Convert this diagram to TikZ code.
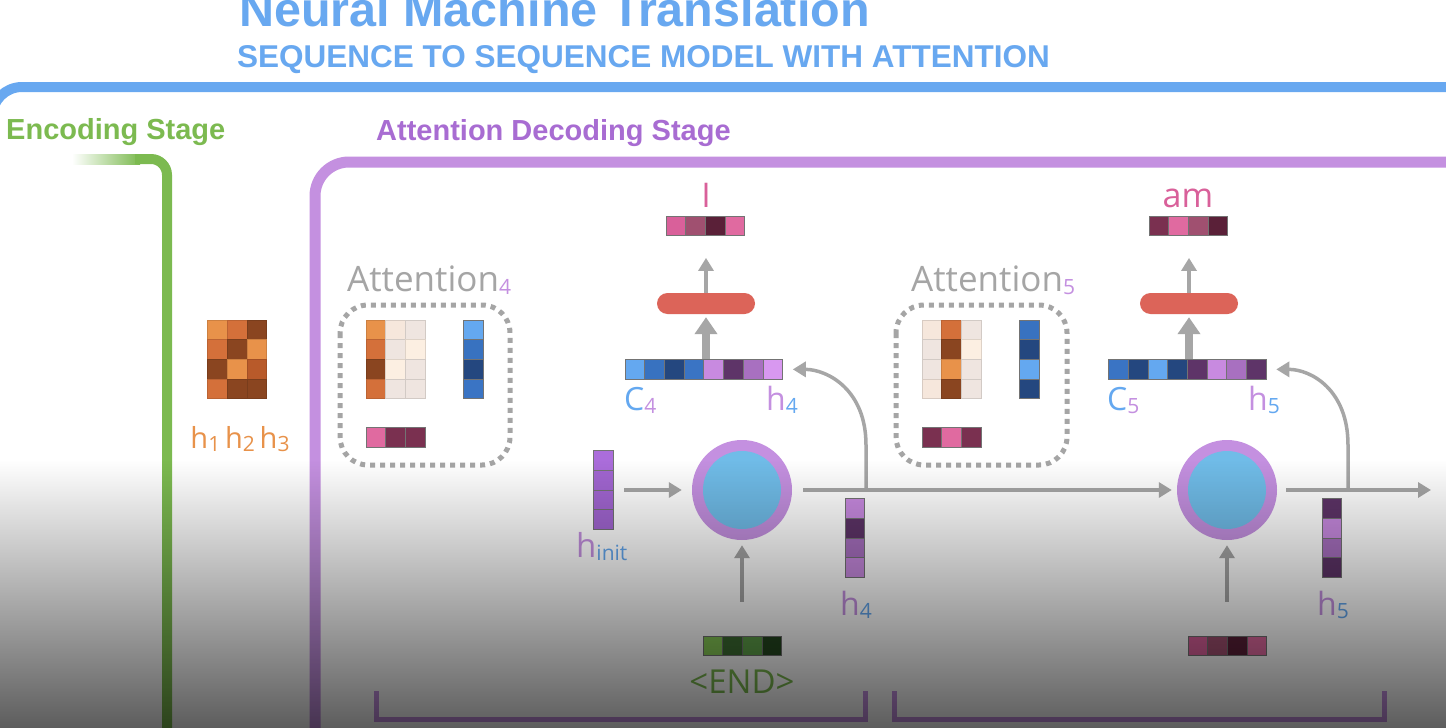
\documentclass[tikz,border=0pt]{standalone}
\usepackage{fontspec}
\setmainfont{Open Sans}
\newfontfamily\headfont{Liberation Sans}
\usetikzlibrary{arrows.meta,fadings}

\definecolor{titleblue}{HTML}{68A8F0}
\definecolor{encgreen}{HTML}{7CBA50}
\definecolor{lilac}{HTML}{C490E0}
\definecolor{decpurple}{HTML}{A86CD2}
\definecolor{attgray}{HTML}{A5A5A5}
\definecolor{arrgray}{HTML}{A6A6A6}
\definecolor{pillred}{HTML}{DC6459}
\definecolor{cellblue}{HTML}{70BCE8}
\definecolor{ctxblue}{HTML}{64A8F0}
\definecolor{pinklbl}{HTML}{D9609A}
% cell colours
\definecolor{o1}{HTML}{E8924A}
\definecolor{o2}{HTML}{D4703A}
\definecolor{o3}{HTML}{8A4520}
\definecolor{o4}{HTML}{B85A2A}
\definecolor{p1}{HTML}{F6E7DC}
\definecolor{p2}{HTML}{EFE5E0}
\definecolor{p3}{HTML}{FCEFE2}
\definecolor{b1}{HTML}{64A8F0}
\definecolor{b2}{HTML}{3872C0}
\definecolor{b3}{HTML}{24477F}
\definecolor{b4}{HTML}{3A74C4}
\definecolor{k1}{HTML}{E06AA0}
\definecolor{k2}{HTML}{7A3050}
\definecolor{k3}{HTML}{A05070}
\definecolor{k4}{HTML}{5A2038}
\definecolor{k5}{HTML}{D9609A}
\definecolor{v1}{HTML}{C88AE0}
\definecolor{v2}{HTML}{5E3468}
\definecolor{v3}{HTML}{A870C0}
\definecolor{v4}{HTML}{D898F0}
\definecolor{i1}{HTML}{AB6DDB}
\definecolor{i2}{HTML}{A266D2}
\definecolor{g1}{HTML}{86C956}
\definecolor{g2}{HTML}{3D6D32}
\definecolor{g3}{HTML}{5FA14A}
\definecolor{g4}{HTML}{254820}

\tikzfading[name=screenshade, top color=transparent!100, bottom color=transparent!36]

\tikzset{
  cellframe/.style={draw=black!55, line width=0.8pt},
  arr/.style={draw=arrgray, line width=3.5pt, -{Triangle[width=15pt,length=13pt]}},
  fatarr/.style={draw=arrgray, line width=8pt, -{Triangle[width=22pt,length=17pt]}},
  pill/.style={fill=pillred, rounded corners=10.5pt, minimum width=98pt, minimum height=21pt, inner sep=0pt},
  rnn/.style={circle, fill=lilac, minimum size=100pt, inner sep=0pt},
  dotbox/.style={draw=attgray, line width=5pt, dash pattern=on 5pt off 5pt, rounded corners=28pt},
  lbl/.style={inner sep=0pt, font=\fontsize{32}{36}\selectfont},
  head/.style={inner sep=0pt, font=\headfont\bfseries\fontsize{29}{33}\selectfont}
}

\def\cw{19.7}
\newcommand{\sub}[2]{\raisebox{-3pt}{\fontsize{21}{21}\selectfont\color{#1}#2}}
% name, x, y, cells, colours
\newcommand{\hvec}[5]{%
  \foreach \col [count=\i from 0] in {#5}
    \filldraw[cellframe, fill=\col] ({#2+\i*\cw},#3) rectangle +(\cw,\cw);
  \node[inner sep=0pt, minimum width={#4*\cw*1pt}, minimum height={\cw*1pt}] (#1) at ({#2+#4*\cw/2},{#3+\cw/2}) {};
}
\newcommand{\vvec}[5]{%
  \foreach \col [count=\i from 0] in {#5}
    \filldraw[cellframe, fill=\col] (#2,{#3+\i*\cw}) rectangle +(\cw,\cw);
  \node[inner sep=0pt, minimum width={\cw*1pt}, minimum height={#4*\cw*1pt}] (#1) at ({#2+\cw/2},{#3+#4*\cw/2}) {};
}
% name, x, y, rows (3 x 4)
\newcommand{\cellgrid}[4]{%
  \foreach \rowcols [count=\ri from 0] in {#4}
    \foreach \col [count=\ci from 0] in \rowcols
      \filldraw[line width=0.8pt, draw=\col!88!black, fill=\col] ({#2+\ci*\cw},{#3+\ri*\cw}) rectangle +(\cw,\cw);
  \node[inner sep=0pt, minimum width={3*\cw*1pt}, minimum height={4*\cw*1pt}] (#1) at ({#2+1.5*\cw},{#3+2*\cw}) {};
}

\begin{document}
\begin{tikzpicture}[x=1pt,y=-1pt]
\useasboundingbox (0,0) rectangle (1446,728);
\fill[white] (0,0) rectangle (1446,728);
%
\node[head, anchor=base west, text=titleblue, font=\headfont\bfseries\fontsize{48.5}{52}\selectfont] (title) at (239,26) {Neural Machine Translation};
\node[head, anchor=base west, text=titleblue, font=\headfont\bfseries\fontsize{31.5}{34}\selectfont] (subtitle) at (237,67) {SEQUENCE TO SEQUENCE MODEL WITH ATTENTION};
\draw[titleblue, line width=10pt, rounded corners=30pt] (1460,87) -- (-8,87) -- (-8,400);
%
\node[head, anchor=base west, text=encgreen] (encstage) at (6,139) {Encoding Stage};
\node[head, anchor=base west, text=decpurple] (decstage) at (376,140) {Attention Decoding Stage};
\fill[left color=white, right color=encgreen] (72,154) rectangle (140,164);
\draw[encgreen, line width=10pt, rounded corners=16pt] (135,159) -- (167,159) -- (167,740);
\draw[lilac, line width=11pt, rounded corners=34pt] (315,740) -- (315,162) -- (1460,162);
%
\cellgrid{encmat}{207.5}{320}{{o1,o2,o3},{o2,o3,o1},{o3,o1,o4},{o2,o3,o3}}
\node[lbl, anchor=base, text=o1, font=\fontsize{29}{34}\selectfont] (lblhenc) at (240,448) {h\sub{o1}{1}\,h\sub{o1}{2}\,h\sub{o1}{3}};
%
\node[lbl, anchor=base west, text=attgray, font=\fontsize{35}{40}\selectfont] (att4lbl) at (347,291) {Attention\sub{lilac}{4}};
\draw[dotbox] (340,305) rectangle (510,465);
\cellgrid{att4mat}{366}{320}{{o1,p1,p2},{o2,p2,p3},{o3,p3,p2},{o2,p2,p2}}
\vvec{att4ctx}{463.5}{320}{4}{b1,b2,b3,b4}
\hvec{att4w}{366}{427.5}{3}{k1,k2,k2}
%
\node[lbl, anchor=base west, text=attgray, font=\fontsize{35}{40}\selectfont] (att5lbl) at (911,291) {Attention\sub{lilac}{5}};
\draw[dotbox] (896,305) rectangle (1067,465);
\cellgrid{att5mat}{922}{320}{{p1,o2,p2},{p2,o3,p3},{p2,o1,p2},{p1,o3,p2}}
\vvec{att5ctx}{1019.5}{320}{4}{b2,b3,b1,b3}
\hvec{att5w}{922}{427.5}{3}{k2,k1,k2}
%
\hvec{outI}{666}{216}{4}{k5,k3,k4,k1}
\node[lbl, anchor=base, text=pinklbl, font=\fontsize{34}{38}\selectfont] (lblI) at (706,207) {I};
\node[pill] (pill4) at (706,303.5) {};
\hvec{cat4}{625}{359.5}{8}{b1,b2,b3,b4,v1,v2,v3,v4}
\node[lbl, anchor=base west, text=ctxblue] (lblC4) at (624,410) {C\sub{lilac}{4}};
\node[lbl, anchor=base east, text=lilac] (lblh4) at (798,410) {h\sub{ctxblue}{4}};
\draw[arr, shorten >=22pt] (pill4.north) -- (pill4.north |- outI.south);
\draw[fatarr, shorten >=3pt] (pill4.south |- cat4.north) -- (pill4.south);
%
\hvec{outam}{1149}{216}{4}{k2,k1,k3,k4}
\node[lbl, anchor=base, text=pinklbl, font=\fontsize{34}{38}\selectfont] (lblam) at (1188,207) {am};
\node[pill] (pill5) at (1189,303.5) {};
\hvec{cat5}{1108.5}{359.5}{8}{b4,b3,b1,b3,v2,v1,v3,v2}
\node[lbl, anchor=base west, text=ctxblue] (lblC5) at (1107,410) {C\sub{lilac}{5}};
\node[lbl, anchor=base east, text=lilac] (lblh5) at (1280,410) {h\sub{ctxblue}{5}};
\draw[arr, shorten >=22pt] (pill5.north) -- (pill5.north |- outam.south);
\draw[fatarr, shorten >=3pt] (pill5.south |- cat5.north) -- (pill5.south);
%
\node[rnn] (cell4) at (742,490) {};
\fill[cellblue] (cell4) circle (39);
\node[rnn] (cell5) at (1227,490) {};
\fill[cellblue] (cell5) circle (39);
\coordinate (j4) at (866,490);
\coordinate (j5) at (1348,490);
\coordinate (outR) at (1431,490);
%
\vvec{hinit}{593.5}{450.6}{4}{i1,i2,i2,i2}
\node[lbl, anchor=base west, text=lilac, font=\fontsize{33}{36}\selectfont] (lblhinit) at (576,557) {h\sub{ctxblue}{init}};
\vvec{hfour}{845}{498.5}{4}{v1,v2,v3,v1}
\node[lbl, anchor=base west, text=lilac] (lblhfour) at (840,615) {h\sub{ctxblue}{4}};
\vvec{hfive}{1322}{498.5}{4}{v2,v1,v3,v2}
\node[lbl, anchor=base west, text=lilac] (lblhfive) at (1317,615) {h\sub{ctxblue}{5}};
\hvec{inEND}{703}{636}{4}{g1,g2,g3,g4}
\node[lbl, anchor=base, text=encgreen, font=\fontsize{33}{36}\selectfont] (lblend) at (742,693) {<END>};
\hvec{inI}{1188}{636}{4}{k5,k3,k4,k1}
%
\draw[arr, shorten <=11pt, shorten >=10pt] (hinit.east) -- (cell4.west);
\draw[arr, shorten <=11pt, shorten >=5pt] (cell4.east) -- (cell5.west);
\draw[arr, shorten <=9pt] (cell5.east) -- (outR);
\draw[arr, shorten <=34pt, shorten >=5pt] (cell4.south |- inEND.north) -- (cell4.south);
\draw[arr, shorten <=34pt, shorten >=5pt] (cell5.south |- inI.north) -- (cell5.south);
\draw[arr, shorten >=10pt] (j4) -- ++(0,-45) .. controls +(0,-55) and +(45,0) .. (cat4.east);
\draw[arr, shorten >=10pt] (j5) -- ++(0,-45) .. controls +(0,-55) and +(45,0) .. (cat5.east);
%
\draw[lilac, line width=5pt] (376,691) -- (376,719.5) -- (865,719.5) -- (865,691);
\draw[lilac, line width=5pt] (894,691) -- (894,719.5) -- (1384,719.5) -- (1384,691);
%
\fill[black, path fading=screenshade] (-1,460) rectangle (1447,729);
\end{tikzpicture}
\end{document}
